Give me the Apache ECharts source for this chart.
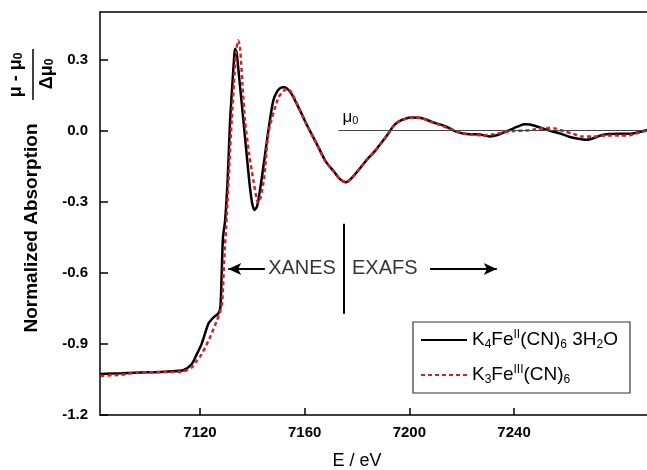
<!DOCTYPE html>
<html><head><meta charset="utf-8">
<script src="https://cdn.jsdelivr.net/npm/echarts@6/dist/echarts.min.js"></script>
<style>html,body{margin:0;padding:0;background:#fff}#c{width:647px;height:470px}</style>
</head><body><div id="c"></div>
<script>
// ---- data ----
const seriesNames = ['K4FeII(CN)6 3H2O', 'K3FeIII(CN)6'];
const energyFeII = [7082,7090,7100,7108,7113.6,7116.8,7118.5,7120.6,7123.2,7125,7127,7127.8,7128.3,7128.8,7129.6,7130.6,7131.5,7132.4,7133,7133.4,7134,7135,7136.6,7138,7139.1,7140,7140.8,7141.8,7142.8,7144.2,7146,7148,7149.5,7150.6,7151.8,7153,7155,7158.2,7161,7164.6,7168,7170.9,7173.5,7175.8,7178,7181.1,7184,7187,7189,7191.5,7194,7196,7198.5,7201,7204,7206,7209,7214,7218,7221,7224,7227,7230.8,7234,7237,7240,7242.5,7244,7246,7249,7252,7255,7258,7261,7264,7267.8,7271,7273,7276,7280,7284,7288,7290.8];
const absFeII =    [-1.027,-1.024,-1.020,-1.016,-1.011,-0.986,-0.950,-0.901,-0.815,-0.790,-0.772,-0.745,-0.60,-0.45,-0.38,-0.20,0.042,0.20,0.30,0.345,0.33,0.22,0.042,-0.12,-0.24,-0.31,-0.335,-0.32,-0.26,-0.155,-0.01,0.127,0.165,0.178,0.183,0.18,0.155,0.085,0.02,-0.056,-0.13,-0.169,-0.205,-0.218,-0.20,-0.16,-0.12,-0.085,-0.056,-0.02,0.02,0.038,0.05,0.055,0.054,0.048,0.035,0.017,-0.005,-0.014,-0.016,-0.017,-0.025,-0.018,-0.004,0.01,0.022,0.026,0.025,0.016,0.005,-0.005,-0.014,-0.026,-0.034,-0.039,-0.03,-0.021,-0.015,-0.014,-0.014,-0.006,0.003];
const energyFeIII = [7082,7090,7096,7105,7113,7116.8,7118.5,7120.6,7123.8,7126.4,7127.6,7128.5,7129.2,7130.2,7131.2,7132.1,7133,7133.8,7134.6,7135.3,7136.2,7137.2,7138.8,7140.4,7141.7,7142.3,7143.2,7144.5,7146,7147.2,7148.5,7150,7151.2,7152.5,7153.5,7155,7158.2,7161,7164.6,7168,7171,7173.5,7175.8,7178,7181,7184,7187,7189,7191.5,7194,7196,7199,7202,7205,7208,7213,7217,7220,7224,7228,7232,7236,7240,7244.8,7248,7252.5,7256,7259,7262.6,7266,7270,7275.4,7280,7284,7288,7290.8];
const absFeIII =    [-1.035,-1.030,-1.021,-1.019,-1.017,-1.0,-0.975,-0.944,-0.873,-0.803,-0.768,-0.72,-0.55,-0.366,-0.15,0.042,0.2,0.33,0.38,0.35,0.2,0.042,-0.10,-0.211,-0.29,-0.305,-0.28,-0.2,-0.02,0.042,0.09,0.14,0.158,0.172,0.176,0.16,0.085,0.02,-0.056,-0.13,-0.172,-0.205,-0.22,-0.2,-0.16,-0.12,-0.085,-0.056,-0.02,0.02,0.04,0.05,0.055,0.05,0.038,0.018,0.0,-0.01,-0.018,-0.02,-0.016,-0.008,-0.002,0.0,0.005,0.011,0.008,-0.003,-0.014,-0.025,-0.025,-0.021,-0.021,-0.02,-0.008,0.0];
const xTicks = [7120, 7160, 7200, 7240];
const yTicks = [-1.2, -0.9, -0.6, -0.3, 0.0, 0.3];
const xRange = [7081.8, 7290.8];
const yRange = [-1.2, 0.5];
// annotation anchors (data coordinates)
const muLine = [[7172.9, 0], [7290.8, 0]];
const boundaryLine = [[7174.8, -0.393], [7174.8, -0.773]];
const xanesArrow = [[7144.8, -0.584], [7130.8, -0.584]];
const exafsArrow = [[7207.9, -0.584], [7233.4, -0.584]];
const noteLabels = [[7159, -0.584, 'XANES'], [7190.6, -0.584, 'EXAFS']];

const FONT = '"Liberation Sans", Arial, Helvetica, sans-serif';
const pair = (xs, ys) => xs.map((x, i) => [x, ys[i]]);

const legendRich = {
  n: {fontSize: 19, lineHeight: 22, fontFamily: FONT, color: '#000'},
  b: {fontSize: 12, lineHeight: 10, verticalAlign: 'bottom', fontFamily: FONT, color: '#000'},
  p: {fontSize: 12, lineHeight: 10, verticalAlign: 'top', fontFamily: FONT, color: '#000'}
};
const legendLabel = {};
legendLabel[seriesNames[0]] = '{n|K}{b|4}{n|Fe}{p|II}{n|(CN)}{b|6}{n| 3H}{b|2}{n|O}';
legendLabel[seriesNames[1]] = '{n|K}{b|3}{n|Fe}{p|III}{n|(CN)}{b|6}';

const chart = echarts.init(document.getElementById('c'), null, {renderer: 'canvas'});
chart.setOption({
  animation: false,
  backgroundColor: '#fff',
  grid: {left: 100, right: 0, top: 12, bottom: 55, outerBoundsMode: 'none', containLabel: false},
  xAxis: [{
    type: 'value', min: xRange[0], max: xRange[1], position: 'bottom',
    name: 'E / eV', nameLocation: 'middle', nameGap: 37,
    nameTextStyle: {fontSize: 18, fontFamily: FONT, color: '#000', padding: [0, 33, 0, 0]},
    axisLine: {show: true, onZero: false, lineStyle: {color: '#000', width: 1.5}},
    axisTick: {show: true, inside: true, length: 7, customValues: xTicks, lineStyle: {color: '#000', width: 1.5}},
    axisLabel: {customValues: xTicks, margin: 10, fontSize: 15, fontWeight: 'bold', fontFamily: FONT, color: '#000',
      formatter: v => String(v)},
    splitLine: {show: false}
  }, {
    type: 'value', min: xRange[0], max: xRange[1], position: 'top',
    axisLine: {show: true, onZero: false, lineStyle: {color: '#000', width: 1.5}},
    axisTick: {show: false}, axisLabel: {show: false}, splitLine: {show: false}
  }],
  yAxis: {
    type: 'value', min: yRange[0], max: yRange[1],
    axisLine: {show: true, onZero: false, lineStyle: {color: '#000', width: 1.5}},
    axisTick: {show: true, inside: true, length: 8, customValues: yTicks, lineStyle: {color: '#000', width: 1.5}},
    axisLabel: {customValues: yTicks, margin: 12, fontSize: 15, fontWeight: 'bold', fontFamily: FONT, color: '#000',
      formatter: v => Number(v).toFixed(1)},
    splitLine: {show: false}
  },
  legend: {
    data: seriesNames, orient: 'vertical', left: 413, top: 322,
    padding: [7, 12, 7, 7], itemGap: 13, itemWidth: 46, itemHeight: 14,
    borderColor: '#333', borderWidth: 1.2, backgroundColor: '#fff',
    selectedMode: false,
    itemStyle: {color: 'rgba(0,0,0,0)', borderWidth: 0, opacity: 0},
    formatter: name => legendLabel[name],
    textStyle: {rich: legendRich}
  },
  series: [{
    name: seriesNames[0], type: 'line', symbol: 'none', smooth: 0.25, z: 3,
    data: pair(energyFeII, absFeII),
    lineStyle: {color: '#000', width: 2.5}, itemStyle: {color: '#000'}
  }, {
    name: seriesNames[1], type: 'line', symbol: 'none', smooth: 0.25, z: 4,
    data: pair(energyFeIII, absFeIII),
    lineStyle: {color: '#d0202e', width: 2.5, type: [4, 3]}, itemStyle: {color: '#d0202e'}
  }, {
    name: 'notes', type: 'scatter', symbolSize: 1, silent: true, z: 5,
    itemStyle: {color: 'rgba(0,0,0,0)'},
    data: noteLabels,
    label: {show: true, position: 'inside', formatter: p => p.value[2], fontSize: 20, fontFamily: FONT, color: '#000'},
    markLine: {
      silent: true, animation: false, symbol: 'none',
      label: {show: false},
      lineStyle: {color: '#000', type: 'solid'},
      data: [
        [{coord: muLine[0], lineStyle: {color: '#444', width: 1},
          label: {show: true, position: 'insideStartTop', distance: 4, formatter: '{m|μ}{s|0}',
            rich: {m: {fontSize: 17, lineHeight: 18, fontFamily: FONT, color: '#000'},
                   s: {fontSize: 11, lineHeight: 9, verticalAlign: 'bottom', fontFamily: FONT, color: '#000'}}}},
         {coord: muLine[1]}],
        [{coord: boundaryLine[0], lineStyle: {width: 2}}, {coord: boundaryLine[1]}],
        [{coord: xanesArrow[0], symbol: 'none', lineStyle: {width: 1.8}}, {coord: xanesArrow[1], symbol: 'arrow', symbolSize: [9, 13]}],
        [{coord: exafsArrow[0], symbol: 'none', lineStyle: {width: 1.8}}, {coord: exafsArrow[1], symbol: 'arrow', symbolSize: [9, 13]}]
      ]
    }
  }],
  graphic: [
    {type: 'text', x: 32, y: 228, rotation: Math.PI / 2,
      style: {text: 'Normalized Absorption', font: 'bold 19px ' + FONT, fill: '#000',
        align: 'center', verticalAlign: 'middle', textAlign: 'center', textVerticalAlign: 'middle'}},
    {type: 'text', x: 16, y: 75, rotation: Math.PI / 2,
      style: {text: '{m|μ - μ}{s|0}', fill: '#000', align: 'center', verticalAlign: 'middle',
        textAlign: 'center', textVerticalAlign: 'middle',
        rich: {m: {fontSize: 18, fontWeight: 'bold', lineHeight: 18, fontFamily: FONT, fill: '#000'},
               s: {fontSize: 12, fontWeight: 'bold', lineHeight: 9, verticalAlign: 'bottom', fontFamily: FONT, fill: '#000'}}}},
    {type: 'line', shape: {x1: 33, y1: 49, x2: 33, y2: 100}, style: {stroke: '#000', lineWidth: 1.5}},
    {type: 'text', x: 47, y: 74, rotation: Math.PI / 2,
      style: {text: '{m|Δμ}{s|0}', fill: '#000', align: 'center', verticalAlign: 'middle',
        textAlign: 'center', textVerticalAlign: 'middle',
        rich: {m: {fontSize: 18, fontWeight: 'bold', lineHeight: 18, fontFamily: FONT, fill: '#000'},
               s: {fontSize: 12, fontWeight: 'bold', lineHeight: 9, verticalAlign: 'bottom', fontFamily: FONT, fill: '#000'}}}}
  ]
});
</script>
</body></html>
